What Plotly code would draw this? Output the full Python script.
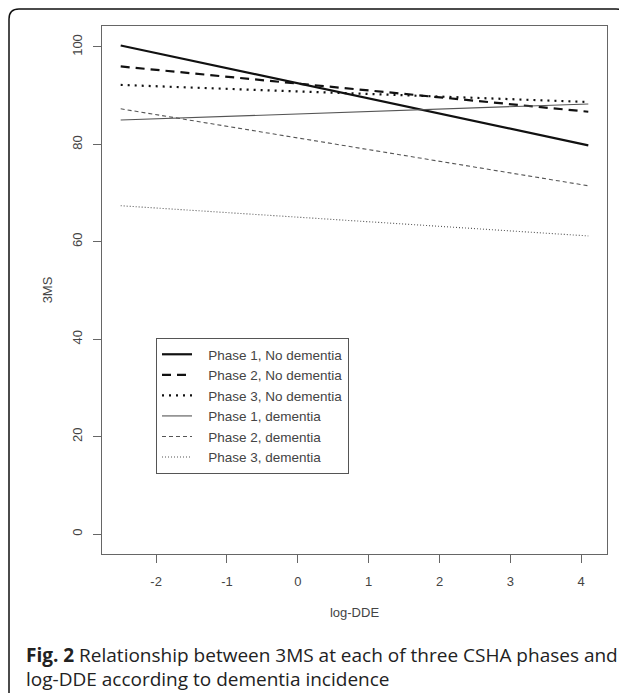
import plotly.graph_objects as go

# Data
log_dde = [-2.5, 4.1]
series_names = [
    "Phase 1, No dementia",
    "Phase 2, No dementia",
    "Phase 3, No dementia",
    "Phase 1, dementia",
    "Phase 2, dementia",
    "Phase 3, dementia",
]
p1_no_dementia = [100.3, 79.8]
p2_no_dementia = [96.0, 86.7]
p3_no_dementia = [92.2, 88.7]
p1_dementia = [85.0, 88.3]
p2_dementia = [87.3, 71.5]
p3_dementia = [67.4, 61.2]
x_ticks = [-2, -1, 0, 1, 2, 3, 4]
x_tick_labels = ["-2", "-1", "0", "1", "2", "3", "4"]
y_ticks = [0, 20, 40, 60, 80, 100]
y_tick_labels = ["0", "20", "40", "60", "80", "100"]

series_values = [p1_no_dementia, p2_no_dementia, p3_no_dementia,
                 p1_dementia, p2_dementia, p3_dementia]
styles = [
    dict(color="#111111", width=2.2, dash="solid"),
    dict(color="#111111", width=2.2, dash="9px,6px"),
    dict(color="#111111", width=2.2, dash="2px,5px"),
    dict(color="#555555", width=1.1, dash="solid"),
    dict(color="#555555", width=1.1, dash="4px,3px"),
    dict(color="#555555", width=1.1, dash="1px,2px"),
]

fig = go.Figure()
pad = "\u00a0\u00a0\u00a0"
for name, vals, st in zip(series_names, series_values, styles):
    fig.add_trace(go.Scatter(x=log_dde, y=vals, mode="lines", name=pad + name, line=st))

# The page body adds an 8px offset; work in page pixel coordinates
OFF = 8
W, H = 627 - OFF, 693 - OFF
PL, PR, PT, PB = 102, 607, 26, 554          # plot box in page pixels
L, T = PL - OFF, PT - OFF
R, B = W - (PR - OFF), H - (PB - OFF)
pw, ph = PR - PL, PB - PT

def px2paper(xp, yp):
    return (xp - PL) / pw, 1 - (yp - PT) / ph

tick_font = dict(family="Liberation Sans, Arial", size=13, color="#444444")
axis_common = dict(
    showline=True, mirror=True, linecolor="#666666", linewidth=1,
    ticks="outside", ticklen=8, tickcolor="#666666", tickwidth=1,
    showgrid=False, zeroline=False, tickfont=tick_font,
)

fig.update_layout(
    width=W, height=H,
    margin=dict(l=L, r=R, t=T, b=B),
    paper_bgcolor="white", plot_bgcolor="white",
    font=dict(family="Liberation Sans, Arial", size=12, color="#444444"),
    xaxis=dict(range=[-2.764, 4.364], tickvals=x_ticks, ticktext=x_tick_labels,
               ticklabelstandoff=7,
               title=dict(text="log-DDE", standoff=20, font=tick_font),
               **axis_common),
    yaxis=dict(range=[-4.1, 104.3], tickvals=y_ticks, ticktext=y_tick_labels,
               tickangle=-90, ticklabelstandoff=6,
               title=dict(text="3MS", standoff=14, font=tick_font),
               **axis_common),
    showlegend=True,
    legend=dict(
        x=px2paper(156, 0)[0], y=px2paper(0, 338)[1], xanchor="left", yanchor="top",
        bgcolor="white", bordercolor="#555555", borderwidth=1,
        font=dict(family="Liberation Sans, Arial", size=13.5, color="#444444"),
        itemwidth=30, tracegroupgap=0,
    ),
)

# Rounded frame around the whole figure
x0, y0 = px2paper(9, 9)
x1, y1 = px2paper(626, 720)
rx = 10 / pw
ry = 10 / ph
path = (f"M {x0+rx},{y0} L {x1-rx},{y0} Q {x1},{y0} {x1},{y0-ry} "
        f"L {x1},{y1} L {x0},{y1} L {x0},{y0-ry} Q {x0},{y0} {x0+rx},{y0} Z")
fig.add_shape(type="path", path=path, xref="paper", yref="paper",
              line=dict(color="#111111", width=1.5), fillcolor="rgba(0,0,0,0)", layer="below")

# Caption
cap_font = dict(family="Open Sans, Noto Sans", size=19, color="#222222")
cx, cy1 = px2paper(24, 655)
_, cy2 = px2paper(24, 679)
fig.add_annotation(x=cx, y=cy1, xref="paper", yref="paper", xanchor="left", yanchor="middle",
                   showarrow=False, align="left", font=cap_font,
                   text="<b>Fig. 2</b> Relationship between 3MS at each of three CSHA phases and")
fig.add_annotation(x=cx, y=cy2, xref="paper", yref="paper", xanchor="left", yanchor="middle",
                   showarrow=False, align="left", font=cap_font,
                   text="log-DDE according to dementia incidence")

fig.write_html("out.html")
